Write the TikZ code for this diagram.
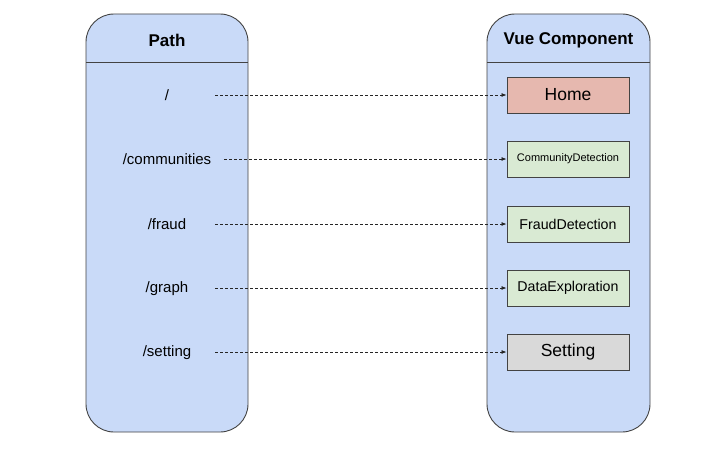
\documentclass[tikz,border=0pt]{standalone}
\usepackage{fontspec}
\setmainfont{Liberation Sans}
\usetikzlibrary{arrows.meta}
\definecolor{contfill}{HTML}{C9DAF8}
\definecolor{homefill}{HTML}{E6B8AF}
\definecolor{greenfill}{HTML}{D9EAD3}
\definecolor{grayfill}{HTML}{D9D9D9}
\definecolor{edge}{HTML}{434343}
\tikzset{
  container/.style={draw=edge, fill=contfill, line width=0.9pt, rounded corners=28pt},
  comp/.style={draw=edge, line width=0.9pt, minimum width=122pt, minimum height=36pt, inner sep=0pt},
  lbl/.style={font=\fontsize{15}{17}\selectfont, inner sep=1pt},
  hdr/.style={font=\fontsize{17}{19}\selectfont\bfseries},
  conn/.style={dashed, dash pattern=on 3pt off 2pt, line width=0.8pt, draw=black!85, -{Latex[length=5pt,width=4pt]}}
}
\begin{document}
\begin{tikzpicture}[x=1pt,y=-1pt]
\useasboundingbox[fill=white] (0,0) rectangle (728,452);
% containers
\draw[container] (86,14) rectangle (248,432);
\draw[edge, line width=0.9pt] (86,62) -- (248,62);
\draw[container] (487,14) rectangle (650,432);
\draw[edge, line width=0.9pt] (487,62) -- (650,62);
\node[hdr] (hpath) at (167,40) {Path};
\node[hdr] (hvue) at (568.5,40) {Vue Component};
% path labels
\node[lbl] (p1) at (167,95) {/};
\node[lbl] (p2) at (167,159.5) {/communities};
\node[lbl] (p3) at (167,224) {/fraud};
\node[lbl] (p4) at (167,288.5) {/graph};
\node[lbl] (p5) at (167,353) {/setting};
% start coordinates
\coordinate (s1) at (215,95);
\coordinate (s2) at (224,159);
\coordinate (s3) at (215,224);
\coordinate (s4) at (215,288);
\coordinate (s5) at (215,352);
% components
\node[comp, fill=homefill, font=\fontsize{17.5}{19}\selectfont] (c1) at (568,95) {Home};
\node[comp, fill=greenfill, font=\fontsize{11}{13}\selectfont] (c2) at (568,159) {CommunityDetection};
\node[comp, fill=greenfill, font=\fontsize{14.2}{16}\selectfont] (c3) at (568,224) {FraudDetection};
\node[comp, fill=greenfill, font=\fontsize{14.2}{16}\selectfont] (c4) at (568,288) {DataExploration};
\node[comp, fill=grayfill, font=\fontsize{17.5}{19}\selectfont] (c5) at (568,352) {Setting};
% connectors
\draw[conn] (s1) -- (c1.west);
\draw[conn] (s2) -- (c2.west);
\draw[conn] (s3) -- (c3.west);
\draw[conn] (s4) -- (c4.west);
\draw[conn] (s5) -- (c5.west);
\end{tikzpicture}
\end{document}
